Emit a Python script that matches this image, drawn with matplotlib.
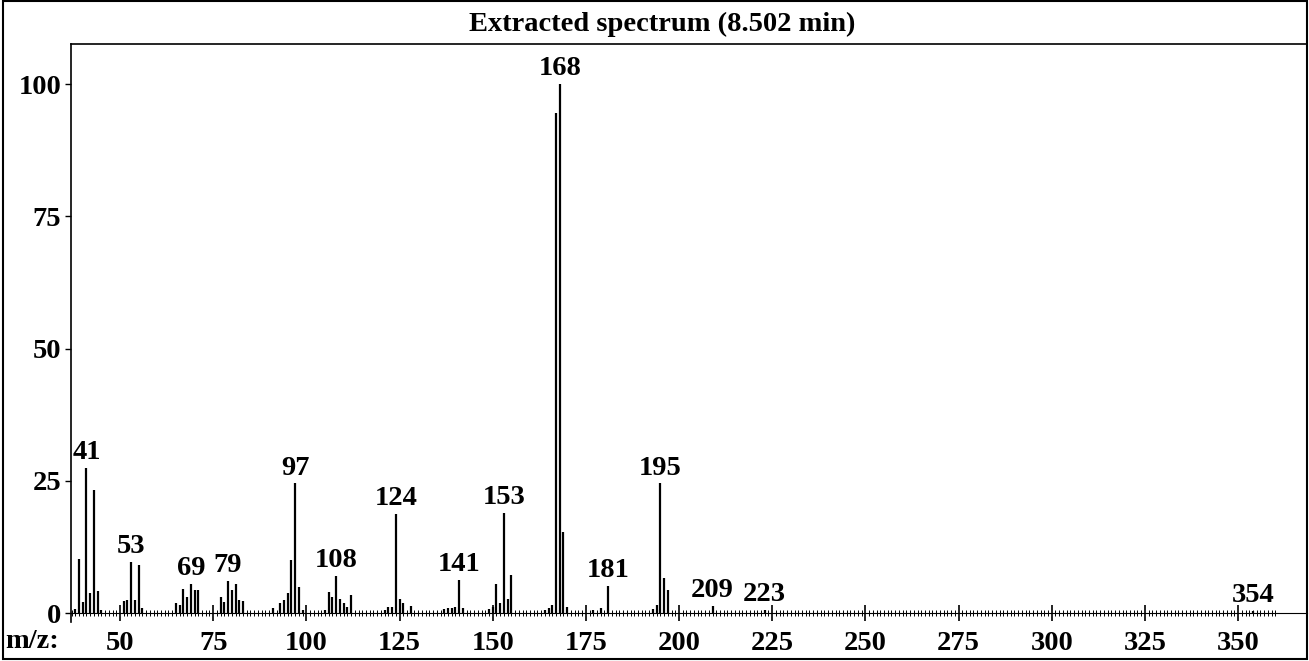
import matplotlib
matplotlib.use("Agg")
import matplotlib.pyplot as plt
from matplotlib.patches import Rectangle

# Peak list (m/z, relative abundance %)
mz = [38, 39, 40, 41, 42, 43, 44, 45,
      51, 52, 53, 54, 55, 56,
      65, 66, 67, 68, 69, 70, 71,
      77, 78, 79, 80, 81, 82, 83,
      91, 93, 94, 95, 96, 97, 98, 99,
      105, 106, 107, 108, 109, 110, 111, 112,
      121, 122, 123, 124, 125, 126, 128,
      137, 138, 139, 140, 141, 142,
      149, 150, 151, 152, 153, 154, 155,
      164, 165, 166, 167, 168, 169, 170,
      177, 179, 181,
      193, 194, 195, 196, 197,
      209, 223, 354]
abundance = [0.8, 10.2, 2.0, 27.4, 3.8, 23.3, 4.2, 0.6,
             2.2, 2.5, 9.7, 2.5, 9.1, 0.9,
             1.9, 1.5, 4.6, 3.0, 5.5, 4.4, 4.4,
             3.1, 2.1, 6.1, 4.3, 5.4, 2.5, 2.2,
             0.9, 1.8, 2.4, 3.7, 10.0, 24.5, 5.0, 0.5,
             0.5, 4.0, 3.0, 7.0, 2.7, 1.8, 1.1, 3.5,
             0.6, 1.1, 1.1, 18.7, 2.7, 1.8, 1.3,
             0.8, 0.9, 1.0, 1.1, 6.3, 1.0,
             0.8, 1.2, 5.4, 1.9, 19.0, 2.6, 7.2,
             0.6, 0.9, 1.5, 94.5, 100.0, 15.3, 1.2,
             0.6, 0.9, 5.2,
             0.8, 1.5, 24.5, 6.6, 4.3,
             1.3, 0.6, 0.4]
labeled = [41, 53, 69, 79, 97, 108, 124, 141, 153, 168, 181, 195, 209, 223, 354]

x_ticks = [50, 75, 100, 125, 150, 175, 200, 225, 250, 275, 300, 325, 350]
y_ticks = [0, 25, 50, 75, 100]

plt.rcParams['font.family'] = ['Liberation Serif', 'DejaVu Serif']
plt.rcParams['font.weight'] = 'bold'
FS = 20.5

W, H = 1309, 661
fig = plt.figure(figsize=(W / 100, H / 100), dpi=100)
ax = fig.add_axes([71 / W, 1 - 622 / H, (1307 - 71) / W, (622 - 44) / H])

ax.vlines(mz, 0, abundance, colors='black', linewidth=1.6)

for m in labeled:
    a = abundance[mz.index(m)]
    ax.annotate(str(m), (m, a), xytext=(0, 2), textcoords='offset points',
                ha='center', va='bottom', fontsize=FS, fontweight='bold')

ax.set_xlim(36.85, 368.5)
ax.set_ylim(-1.7, 107.6)

ax.spines['bottom'].set_position(('data', 0))
ax.spines['bottom'].set_linewidth(0.8)
for s in ['left', 'top', 'right']:
    ax.spines[s].set_linewidth(1.2)

ax.set_xticks(x_ticks)
ax.set_xticks(range(37, 361), minor=True)
ax.set_xticklabels([str(t) for t in x_ticks], fontsize=FS, fontweight='bold')
ax.tick_params(axis='x', which='major', direction='inout', length=12, width=1.2, pad=7)
ax.tick_params(axis='x', which='minor', direction='inout', length=5, width=0.7)

ax.set_yticks(y_ticks)
ax.set_yticklabels([str(t) for t in y_ticks], fontsize=FS, fontweight='bold')
ax.tick_params(axis='y', direction='out', length=4, width=1.0, pad=3)

fig.text(662 / W, 1 - 24 / H, 'Extracted spectrum (8.502 min)', ha='center', va='center',
         fontsize=FS, fontweight='bold')

fig.text(5 / W, 1 - 642 / H, 'm/z:', ha='left', va='center', fontsize=FS, fontweight='bold')

# outer frame around the whole report panel
fig.patches.append(Rectangle((3 / W, 2 / H), (W - 5) / W, (H - 3) / H,
                             transform=fig.transFigure, fill=False,
                             edgecolor='black', linewidth=1.5))

fig.savefig('out.png', dpi=100)
